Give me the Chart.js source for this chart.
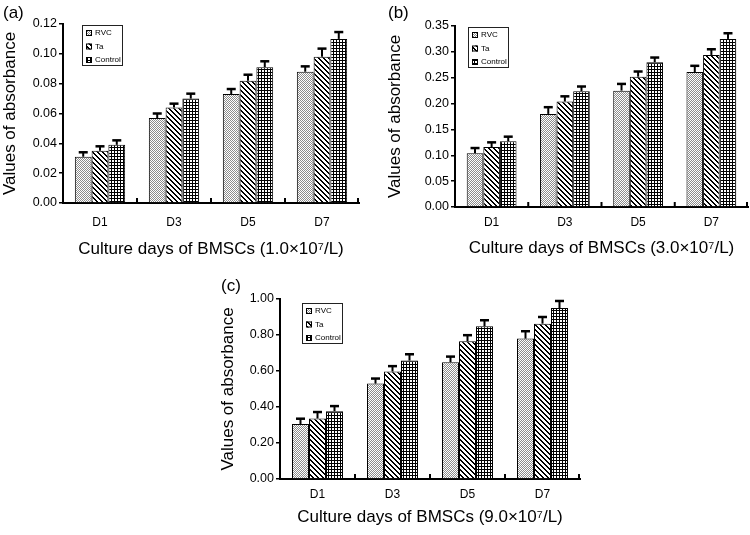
<!DOCTYPE html>
<html>
<head>
<meta charset="utf-8">
<script src="https://cdn.jsdelivr.net/npm/chart.js@4.4.1/dist/chart.umd.min.js"></script>
<style>
  html, body { margin: 0; padding: 0; background: #fff; overflow: hidden; }
  #wrap { position: relative; width: 750px; height: 535px; }
  canvas { position: absolute; }
  .tag { position: absolute; font: 17px "Liberation Sans", Arial, sans-serif; color: #000; }
</style>
</head>
<body>
<div id="wrap">
  <canvas id="chartA" width="375" height="265" style="left:0;top:0"></canvas>
  <canvas id="chartB" width="375" height="265" style="left:375px;top:0"></canvas>
  <canvas id="chartC" width="400" height="270" style="left:190px;top:265px"></canvas>
  <div class="tag" style="left:3px;top:3px">(a)</div>
  <div class="tag" style="left:388px;top:3px">(b)</div>
  <div class="tag" style="left:221px;top:276px">(c)</div>
</div>
<script>
// categorias y series
const days = ['D1', 'D3', 'D5', 'D7'];
const seriesNames = ['RVC', 'Ta', 'Control'];

// (a) 1.0x10^7/L
const rvcA = [0.031, 0.057, 0.073, 0.088];
const taA = [0.035, 0.064, 0.082, 0.098];
const ctrlA = [0.039, 0.070, 0.091, 0.110];
const rvcErrA = [0.003, 0.003, 0.0034, 0.0036];
const taErrA = [0.003, 0.0026, 0.004, 0.0055];
const ctrlErrA = [0.003, 0.0033, 0.004, 0.0046];
const ticksA = [0, 0.02, 0.04, 0.06, 0.08, 0.10, 0.12];

// (b) 3.0x10^7/L
const rvcB = [0.104, 0.180, 0.225, 0.261];
const taB = [0.116, 0.204, 0.252, 0.294];
const ctrlB = [0.127, 0.224, 0.280, 0.325];
const rvcErrB = [0.010, 0.013, 0.013, 0.012];
const taErrB = [0.009, 0.010, 0.010, 0.011];
const ctrlErrB = [0.009, 0.009, 0.009, 0.011];
const ticksB = [0, 0.05, 0.10, 0.15, 0.20, 0.25, 0.30, 0.35];

// (c) 9.0x10^7/L
const rvcC = [0.305, 0.530, 0.649, 0.780];
const taC = [0.336, 0.597, 0.765, 0.863];
const ctrlC = [0.377, 0.658, 0.848, 0.950];
const rvcErrC = [0.030, 0.028, 0.031, 0.041];
const taErrC = [0.036, 0.030, 0.034, 0.037];
const ctrlErrC = [0.028, 0.035, 0.034, 0.039];
const ticksC = [0, 0.20, 0.40, 0.60, 0.80, 1.00];

Chart.defaults.font.family = '"Liberation Sans", Arial, sans-serif';
Chart.defaults.color = '#000';

// Patrones de relleno (punteado, rayado, cuadricula)
function makePattern(size, paint) {
    const c = document.createElement('canvas');
    c.width = size; c.height = size;
    const g = c.getContext('2d');
    g.fillStyle = '#fff';
    g.fillRect(0, 0, size, size);
    paint(g, size);
    return c.getContext('2d').createPattern(c, 'repeat');
}
const dotFill = makePattern(2, (g) => {
    g.fillStyle = '#8c8c8c';
    g.fillRect(0, 0, 1, 1);
    g.fillRect(1, 1, 1, 1);
});
const hatchFill = makePattern(5, (g, n) => {
    g.fillStyle = '#000';
    for (let x = 0; x < n; x++) {
        for (let y = 0; y < n; y++) {
            if ((x - y + n) % n < 2) g.fillRect(x, y, 1, 1);
        }
    }
});
const gridFill = makePattern(3, (g) => {
    g.fillStyle = '#000';
    g.fillRect(0, 0, 3, 1);
    g.fillRect(0, 0, 1, 3);
});
const fills = [dotFill, hatchFill, gridFill];

// Barras de error (solo hacia arriba)
const errorBars = {
    id: 'errorBars',
    afterDatasetsDraw(chart) {
        const { ctx, scales: { y } } = chart;
        ctx.save();
        ctx.strokeStyle = '#000';
        chart.data.datasets.forEach((ds, i) => {
            chart.getDatasetMeta(i).data.forEach((bar, j) => {
                const top = y.getPixelForValue(ds.data[j] + ds.errors[j]);
                ctx.lineWidth = 2;
                ctx.beginPath();
                ctx.moveTo(bar.x, bar.y);
                ctx.lineTo(bar.x, top);
                ctx.stroke();
                ctx.lineWidth = 2.5;
                ctx.beginPath();
                ctx.moveTo(bar.x - 4.5, top);
                ctx.lineTo(bar.x + 4.5, top);
                ctx.stroke();
            });
        });
        ctx.restore();
    }
};

// Marcas pequeñas hacia dentro en el eje X, entre categorias
const innerTicks = {
    id: 'innerTicks',
    afterDraw(chart) {
        const { ctx, chartArea, scales: { x } } = chart;
        ctx.save();
        ctx.strokeStyle = '#000';
        ctx.lineWidth = 2;
        for (let k = 1; k <= days.length; k++) {
            const px = k < days.length
                ? (x.getPixelForTick(k - 1) + x.getPixelForTick(k)) / 2
                : chartArea.right - 1;
            ctx.beginPath();
            ctx.moveTo(px, chartArea.bottom);
            ctx.lineTo(px, chartArea.bottom - 5);
            ctx.stroke();
        }
        ctx.restore();
    }
};

// Leyenda con recuadro dentro del area del grafico
const boxLegend = {
    id: 'boxLegend',
    afterDraw(chart, args, opts) {
        const { ctx, chartArea } = chart;
        const bx = chartArea.left + opts.dx;
        const by = chartArea.top + opts.dy;
        ctx.save();
        ctx.fillStyle = '#fff';
        ctx.fillRect(bx, by, 40, 40);
        ctx.strokeStyle = '#222';
        ctx.lineWidth = 1;
        ctx.strokeRect(bx + 0.5, by + 0.5, 40, 40);
        ctx.font = '8px "Liberation Sans", Arial, sans-serif';
        ctx.textBaseline = 'middle';
        chart.data.datasets.forEach((ds, i) => {
            const cy = by + 8 + i * 13.5;
            ctx.fillStyle = ds.backgroundColor;
            ctx.fillRect(bx + 4, cy - 3, 6, 6);
            ctx.strokeStyle = '#000';
            ctx.strokeRect(bx + 4.5, cy - 2.5, 5, 5);
            ctx.fillStyle = '#000';
            ctx.fillText(ds.label, bx + 13, cy);
        });
        ctx.restore();
    }
};

function makePanel(id, values, errors, ticks, xTitle, geo) {
    const canvas = document.getElementById(id);
    return new Chart(canvas, {
        type: 'bar',
        data: {
            labels: days,
            datasets: seriesNames.map((name, i) => ({
                label: name,
                data: values[i],
                errors: errors[i],
                backgroundColor: fills[i],
                borderColor: '#000',
                borderWidth: 1,
                categoryPercentage: 0.68,
                barPercentage: 1.0
            }))
        },
        options: {
            responsive: false,
            animation: false,
            layout: { padding: geo.padding },
            plugins: {
                legend: { display: false },
                tooltip: { enabled: false },
                boxLegend: geo.legend
            },
            scales: {
                x: {
                    grid: { display: false },
                    border: { display: true, color: '#000', width: 2 },
                    ticks: { padding: geo.xPad, font: { size: 12 } },
                    title: {
                        display: true,
                        text: xTitle,
                        font: { size: 17 },
                        padding: { top: 0, bottom: 1 }
                    },
                    afterFit: (s) => { s.height = geo.xHeight; }
                },
                y: {
                    min: ticks[0],
                    max: ticks[ticks.length - 1],
                    afterBuildTicks: (s) => { s.ticks = ticks.map(v => ({ value: v })); },
                    grid: {
                        drawOnChartArea: false,
                        drawTicks: true,
                        tickLength: 4,
                        color: '#000',
                        lineWidth: 1.5
                    },
                    border: { display: true, color: '#000', width: 2 },
                    ticks: {
                        padding: 2,
                        font: { size: 12.5 },
                        callback: (v) => Number(v).toFixed(2)
                    },
                    title: {
                        display: true,
                        text: 'Values of absorbance',
                        font: { size: 17 },
                        padding: { top: geo.yTitlePad, bottom: 0 }
                    },
                    afterFit: (s) => { s.width = geo.yWidth; }
                }
            }
        },
        plugins: [errorBars, innerTicks, boxLegend]
    });
}

makePanel('chartA', [rvcA, taA, ctrlA], [rvcErrA, taErrA, ctrlErrA], ticksA,
    'Culture days of BMSCs (1.0×10⁷/L)', {
        padding: { left: 0, top: 24, right: 16, bottom: 4 },
        yWidth: 63, yTitlePad: 0, xHeight: 58, xPad: 4,
        legend: { dx: 19, dy: 1 }
    });

makePanel('chartB', [rvcB, taB, ctrlB], [rvcErrB, taErrB, ctrlErrB], ticksB,
    'Culture days of BMSCs (3.0×10⁷/L)', {
        padding: { left: 0, top: 26, right: 2, bottom: 5 },
        yWidth: 80, yTitlePad: 10, xHeight: 53, xPad: 0,
        legend: { dx: 13, dy: 1 }
    });

makePanel('chartC', [rvcC, taC, ctrlC], [rvcErrC, taErrC, ctrlErrC], ticksC,
    'Culture days of BMSCs (9.0×10⁷/L)', {
        padding: { left: 28, top: 34, right: 10, bottom: 6 },
        yWidth: 62, yTitlePad: 0, xHeight: 50, xPad: 0,
        legend: { dx: 22, dy: 4 }
    });
</script>
</body>
</html>
